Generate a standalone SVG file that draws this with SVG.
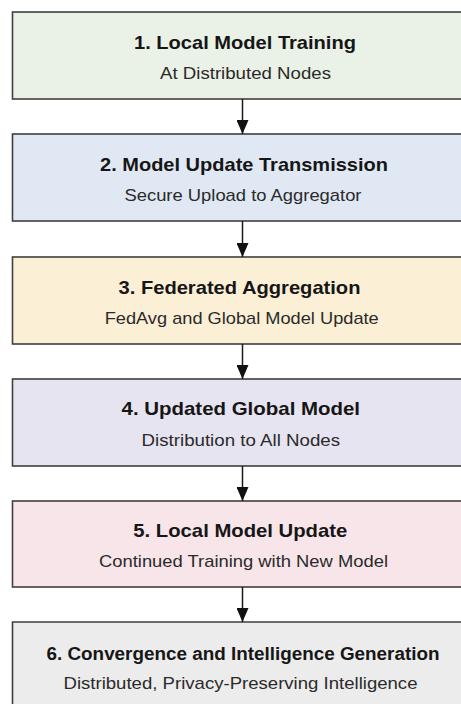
<svg xmlns="http://www.w3.org/2000/svg" width="461" height="704" viewBox="0 0 461 704">
  <style>
    .box { stroke: #3f3f3f; stroke-width: 1.6; }
    .title { font-family: "Liberation Sans", Arial, sans-serif; font-weight: bold; font-size: 17.5px; fill: #161616; text-anchor: middle; }
    .sub { font-family: "Liberation Sans", Arial, sans-serif; font-size: 16px; fill: #2a2a2a; text-anchor: middle; }
    .link { stroke: #1a1a1a; stroke-width: 1.5; fill: none; marker-end: url(#head); }
  </style>
  <defs>
    <marker id="head" markerUnits="userSpaceOnUse" markerWidth="12" markerHeight="14" refX="6" refY="14" orient="0" viewBox="0 0 12 14">
      <path d="M0,0 L12,0 L6,14 Z" fill="#111"/>
    </marker>
  </defs>
  <rect width="461" height="704" fill="#ffffff"/>

  <!-- labels are set in a slightly widened face: x is divided by 1.15 inside each scaled text -->
  <g id="node-1">
    <rect class="box" x="12.5" y="12" width="470" height="87" fill="#eaf1e6"/>
    <text class="title" transform="scale(1.15 1)" x="213.04" y="49" textLength="193" lengthAdjust="spacingAndGlyphs">1. Local Model Training</text>
    <text class="sub" transform="scale(1.15 1)" x="213.48" y="79" textLength="148.7" lengthAdjust="spacingAndGlyphs">At Distributed Nodes</text>
  </g>

  <g id="node-2">
    <rect class="box" x="12.5" y="134" width="470" height="87" fill="#e0e9f3"/>
    <text class="title" transform="scale(1.15 1)" x="212.17" y="171" textLength="250.4" lengthAdjust="spacingAndGlyphs">2. Model Update Transmission</text>
    <text class="sub" transform="scale(1.15 1)" x="211.3" y="201" textLength="206.1" lengthAdjust="spacingAndGlyphs">Secure Upload to Aggregator</text>
  </g>

  <g id="node-3">
    <rect class="box" x="12.5" y="257" width="470" height="87" fill="#fbefd6"/>
    <text class="title" transform="scale(1.15 1)" x="208.26" y="294" textLength="210.4" lengthAdjust="spacingAndGlyphs">3. Federated Aggregation</text>
    <text class="sub" transform="scale(1.15 1)" x="210.17" y="324" textLength="238.3" lengthAdjust="spacingAndGlyphs">FedAvg and Global Model Update</text>
  </g>

  <g id="node-4">
    <rect class="box" x="12.5" y="379" width="470" height="87" fill="#e7e4f1"/>
    <text class="title" transform="scale(1.15 1)" x="209.39" y="415.5" textLength="207.4" lengthAdjust="spacingAndGlyphs">4. Updated Global Model</text>
    <text class="sub" transform="scale(1.15 1)" x="209.39" y="446" textLength="172.6" lengthAdjust="spacingAndGlyphs">Distribution to All Nodes</text>
  </g>

  <g id="node-5">
    <rect class="box" x="12.5" y="501" width="470" height="86" fill="#f8e5ea"/>
    <text class="title" transform="scale(1.15 1)" x="208.96" y="537" textLength="186.1" lengthAdjust="spacingAndGlyphs">5. Local Model Update</text>
    <text class="sub" transform="scale(1.15 1)" x="211.74" y="567" textLength="251.3" lengthAdjust="spacingAndGlyphs">Continued Training with New Model</text>
  </g>

  <!-- last box runs off the bottom edge: filled to the edge, outlined on three sides -->
  <g id="node-6">
    <rect x="12.5" y="622" width="470" height="82" fill="#ececec"/>
    <path class="box" d="M12.5,704 V622 H482.5 V704" fill="none"/>
    <text class="title" x="243" y="660" textLength="393" lengthAdjust="spacingAndGlyphs">6. Convergence and Intelligence Generation</text>
    <text class="sub" transform="scale(1.15 1)" x="209.13" y="689" textLength="307.8" lengthAdjust="spacingAndGlyphs">Distributed, Privacy-Preserving Intelligence</text>
  </g>

  <g id="connectors">
    <line class="link" x1="242.5" y1="99" x2="242.5" y2="134"/>
    <line class="link" x1="242.5" y1="221" x2="242.5" y2="257"/>
    <line class="link" x1="242.5" y1="344" x2="242.5" y2="379"/>
    <line class="link" x1="242.5" y1="466" x2="242.5" y2="501"/>
    <line class="link" x1="242.5" y1="587" x2="242.5" y2="622"/>
  </g>
</svg>
